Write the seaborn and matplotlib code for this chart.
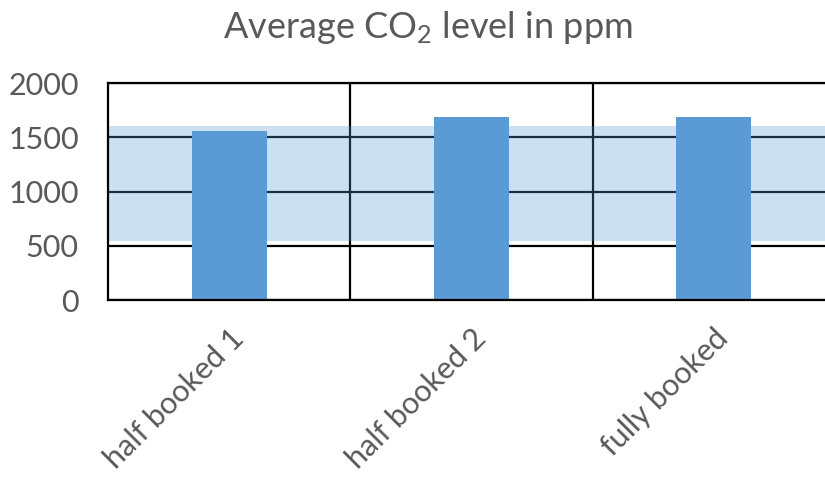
import matplotlib
matplotlib.use("Agg")
import matplotlib.pyplot as plt
import seaborn as sns
import pandas as pd

# data
categories = ["half booked 1", "half booked 2", "fully booked"]
co2_ppm = [1555, 1685, 1690]
band_low = 550
band_high = 1605
y_ticks = [0, 500, 1000, 1500, 2000]

sns.set_style("white")
plt.rcParams["font.family"] = ["Lato", "DejaVu Sans"]
plt.rcParams["mathtext.fontset"] = "custom"
plt.rcParams["mathtext.rm"] = "Lato"
plt.rcParams["mathtext.it"] = "Lato"

text_col = "#595959"
bar_col = "#5B9BD5"

df = pd.DataFrame({"category": categories, "ppm": co2_ppm})

fig = plt.figure(figsize=(8.25, 4.78), dpi=100)
ax = fig.add_axes([0.1309, 0.372, 0.881, 0.454])

# grid below everything
ax.set_axisbelow(True)
ax.yaxis.grid(True, color="black", linewidth=1.6)
ax.set_xticks([0.5, 1.5], minor=True)
ax.xaxis.grid(True, which="minor", color="black", linewidth=1.6)

# shaded target range, semi transparent over the grid
ax.axhspan(band_low, band_high, color=bar_col, alpha=0.3, linewidth=0, zorder=1.5)

sns.barplot(data=df, x="category", y="ppm", color=bar_col, width=0.31,
            saturation=1, linewidth=0, ax=ax, zorder=2)

ax.set_xlim(-0.5, 2.5)
ax.set_ylim(0, 2000)
ax.set_yticks(y_ticks)
ax.set_xlabel("")
ax.set_ylabel("")

for s in ax.spines.values():
    s.set_color("black")
    s.set_linewidth(1.6)

ax.tick_params(axis="y", length=0, labelsize=22, labelcolor=text_col, pad=21)
ax.tick_params(axis="x", which="both", length=0, labelsize=22, labelcolor=text_col, pad=17)
plt.setp(ax.get_xticklabels(), rotation=45, ha="right", rotation_mode="anchor")

fig.text(0.519, 1 - 38 / 478, "Average CO$_2$ level in ppm", fontsize=26,
         color=text_col, ha="center", va="baseline")

fig.savefig("out.png", dpi=100)
